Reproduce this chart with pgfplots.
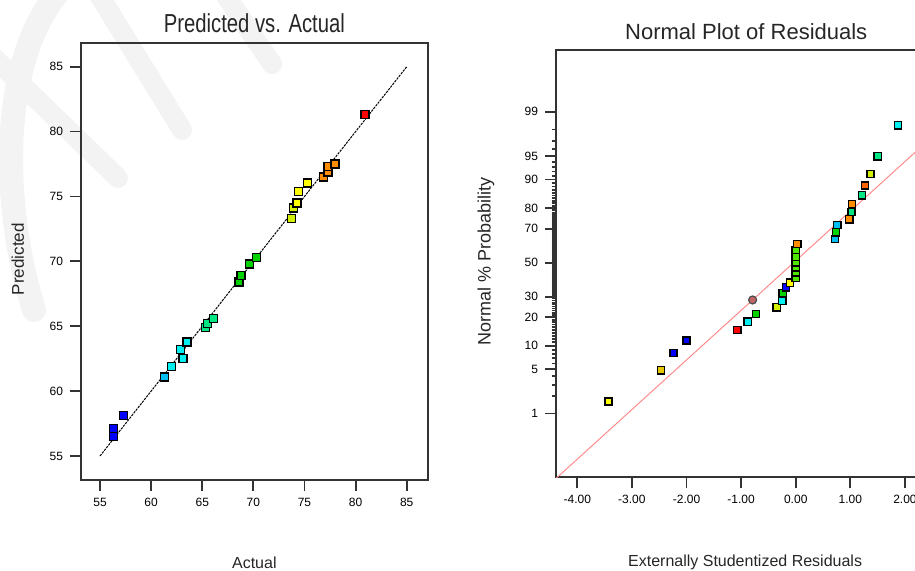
\documentclass[border=0pt]{standalone}
\usepackage{fontspec}
\setmainfont{Liberation Sans}
\usepackage{graphicx}
\usepackage{pgfplots}
\pgfplotsset{compat=1.18}
\usepackage{pgfplotstable}

\definecolor{cB}{RGB}{0,0,255}
\definecolor{cC}{RGB}{0,240,240}
\definecolor{cSky}{RGB}{0,190,240}
\definecolor{cSG}{RGB}{0,230,130}
\definecolor{cG}{RGB}{0,210,0}
\definecolor{cLG}{RGB}{80,230,0}
\definecolor{cYG}{RGB}{210,240,0}
\definecolor{cY}{RGB}{255,255,0}
\definecolor{cGold}{RGB}{230,200,0}
\definecolor{cO}{RGB}{255,140,0}
\definecolor{cDO}{RGB}{255,100,0}
\definecolor{cR}{RGB}{255,0,0}
\definecolor{cP}{RGB}{190,100,100}
\definecolor{wm}{RGB}{243,243,243}
\definecolor{fitred}{RGB}{255,140,140}

% Predicted vs. Actual
\pgfplotstableread{
act pred c
56.3 56.5 b
56.3 57.1 b
57.3 58.1 b
61.3 61.1 sky
62.0 61.9 c
63.1 62.5 c
62.9 63.2 c
63.5 63.8 c
65.3 64.9 sg
65.5 65.2 sg
66.1 65.6 sg
68.6 68.4 g
68.8 68.9 g
69.6 69.8 g
70.3 70.3 g
73.75 73.3 yg
73.9 74.1 yg
74.25 74.5 y
74.4 75.4 y
75.3 76.05 y
76.85 76.5 o
77.3 76.9 o
77.3 77.3 o
78.0 77.5 o
80.9 81.3 r
}\leftdata

% residual, normal score
\pgfplotstableread{
res z c
-3.43 -2.14 y
-2.47 -1.66 gold
-2.24 -1.39 b
-2.00 -1.20 b
-1.07 -1.04 r
-0.88 -0.91 c
-0.73 -0.79 g
-0.35 -0.687 yg
-0.245 -0.59 c
-0.24 -0.47 g
-0.18 -0.38 b
-0.105 -0.31 y
0.0 -0.231 lg
0.0 -0.148 lg
0.0 -0.071 lg
0.0 0.006 lg
0.0 0.092 lg
0.0 0.196 lg
0.03 0.288 o
0.72 0.365 sky
0.74 0.468 g
0.76 0.58 sky
0.98 0.668 o
1.02 0.78 sg
1.03 0.90 o
1.21 1.04 sg
1.27 1.19 do
1.37 1.37 yg
1.50 1.64 sg
1.87 2.12 c
}\rightdata

\pgfplotsset{
  dx/.style={
    scale only axis, anchor=south west,
    axis line style={line width=0.9pt, black!80},
    tick style={line width=0.9pt, black!80},
    tick align=outside, major tick length=5.5pt, minor tick length=2.2pt,
    xtick pos=left, ytick pos=left,
    ticklabel style={font=\fontsize{6}{7}\selectfont, black},
    /pgf/number format/assume math mode=true,
    label style={black!85},
  },
  classes/.style={
    scatter/classes={
      b={mark=square*, draw=black, fill=cB},
      c={mark=square*, draw=black, fill=cC},
      sky={mark=square*, draw=black, fill=cSky},
      sg={mark=square*, draw=black, fill=cSG},
      g={mark=square*, draw=black, fill=cG},
      lg={mark=square*, draw=black, fill=cLG},
      yg={mark=square*, draw=black, fill=cYG},
      y={mark=square*, draw=black, fill=cY},
      gold={mark=square*, draw=black, fill=cGold},
      o={mark=square*, draw=black, fill=cO},
      do={mark=square*, draw=black, fill=cDO},
      r={mark=square*, draw=black, fill=cR}
    }
  }
}

\begin{document}
\begin{tikzpicture}
\useasboundingbox (0,0) rectangle (457.5pt,285pt);
% faint watermark in the background
\draw[wm, line width=10pt, line cap=round] (48pt,290pt) -- (91pt,220pt);
\draw[wm, line width=10pt, line cap=round] (-5pt,258pt) -- (59pt,196pt);
\draw[wm, line width=12pt, line cap=round] (30pt,290pt) .. controls (0pt,255pt) and (0pt,185pt) .. (17pt,130pt);
\draw[wm, line width=10pt, line cap=round] (111pt,290pt) -- (136pt,253pt);

\begin{axis}[dx,
  at={(40.5pt,45pt)}, width=173.35pt, height=218.65pt,
  xmin=53.14, xmax=87.05, ymin=53.15, ymax=86.85,
  xtick={55,60,65,70,75,80,85}, ytick={55,60,65,70,75,80,85},
  title={\scalebox{0.78}[1]{Predicted vs. Actual}},
  title style={font=\fontsize{13}{15}\selectfont, black!85, at={(axis description cs:0.5,1.018)}, anchor=center},
  xlabel={Actual}, ylabel={Predicted},
  xlabel style={font=\fontsize{8}{9}\selectfont, at={(axis description cs:0.5,-0.19)}, anchor=center},
  ylabel style={font=\fontsize{8.5}{9}\selectfont, at={(axis description cs:-0.182,0.505)}, anchor=center, rotate=0},
]
\addplot[black, line width=0.5pt, dash pattern=on 1.2pt off 0.5pt] coordinates {(55,55) (85,85)};
\addplot[scatter, only marks, classes, mark size=2pt, mark options={line width=0.7pt},
  point meta=explicit symbolic] table[x=act, y=pred, meta=c] {\leftdata};
\end{axis}

\begin{axis}[dx,
  at={(278pt,46.35pt)}, width=185.4pt, height=213.65pt,
  xmin=-4.39, xmax=2.4, ymin=-3.31, ymax=3.28,
  xtick={-4,-3,-2,-1,0,1,2},
  xticklabel style={/pgf/number format/fixed, /pgf/number format/fixed zerofill, /pgf/number format/precision=2},
  ytick={-2.3263,-1.6449,-1.2816,-0.8416,-0.5244,0,0.5244,0.8416,1.2816,1.6449,2.3263},
  yticklabels={1,5,10,20,30,50,70,80,90,95,99},
  minor ytick={-2.0537,-1.8808,-1.7507,-1.5548,-1.4758,-1.4051,-1.3408,
    -1.2265,-1.1750,-1.1264,-1.0803,-1.0364,-0.9945,-0.9542,-0.9154,-0.8779,
    -0.8064,-0.7722,-0.7388,-0.7063,-0.6745,-0.6433,-0.6128,-0.5828,-0.5534,
    -0.4959,-0.4677,-0.4399,-0.4125,-0.3853,-0.3585,-0.3319,-0.3055,-0.2793,-0.2533,
    -0.2275,-0.2019,-0.1764,-0.1510,-0.1257,-0.1004,-0.0753,-0.0502,-0.0251,
    0.0251,0.0502,0.0753,0.1004,0.1257,0.1510,0.1764,0.2019,0.2275,
    0.2533,0.2793,0.3055,0.3319,0.3585,0.3853,0.4125,0.4399,0.4677,0.4959,
    0.5534,0.5828,0.6128,0.6433,0.6745,0.7063,0.7388,0.7722,0.8064,
    0.8779,0.9154,0.9542,0.9945,1.0364,1.0803,1.1264,1.1750,1.2265,
    1.3408,1.4051,1.4758,1.5548,1.7507,1.8808,2.0537},
  title={Normal Plot of Residuals},
  title style={font=\fontsize{11}{13}\selectfont, black!85, at={(axis description cs:0.513,1.014)}, anchor=center},
  xlabel={Externally Studentized Residuals}, ylabel={Normal \% Probability},
  xlabel style={font=\fontsize{8}{9}\selectfont, at={(axis description cs:0.51,-0.198)}, anchor=center},
  ylabel style={font=\fontsize{9}{10}\selectfont, at={(axis description cs:-0.189,0.506)}, anchor=center, rotate=0},
]
\addplot[fitred, line width=0.5pt] coordinates {(-4.4,-3.336) (2.4,1.866)};
\addplot[scatter, only marks, classes, mark size=1.8pt, mark options={line width=0.7pt},
  point meta=explicit symbolic] table[x=res, y=z, meta=c] {\rightdata};
\addplot[only marks, mark=*, mark size=2pt, draw=black!70, fill=cP, line width=0.6pt] coordinates {(-0.79,-0.575)};
\end{axis}
\end{tikzpicture}
\end{document}
